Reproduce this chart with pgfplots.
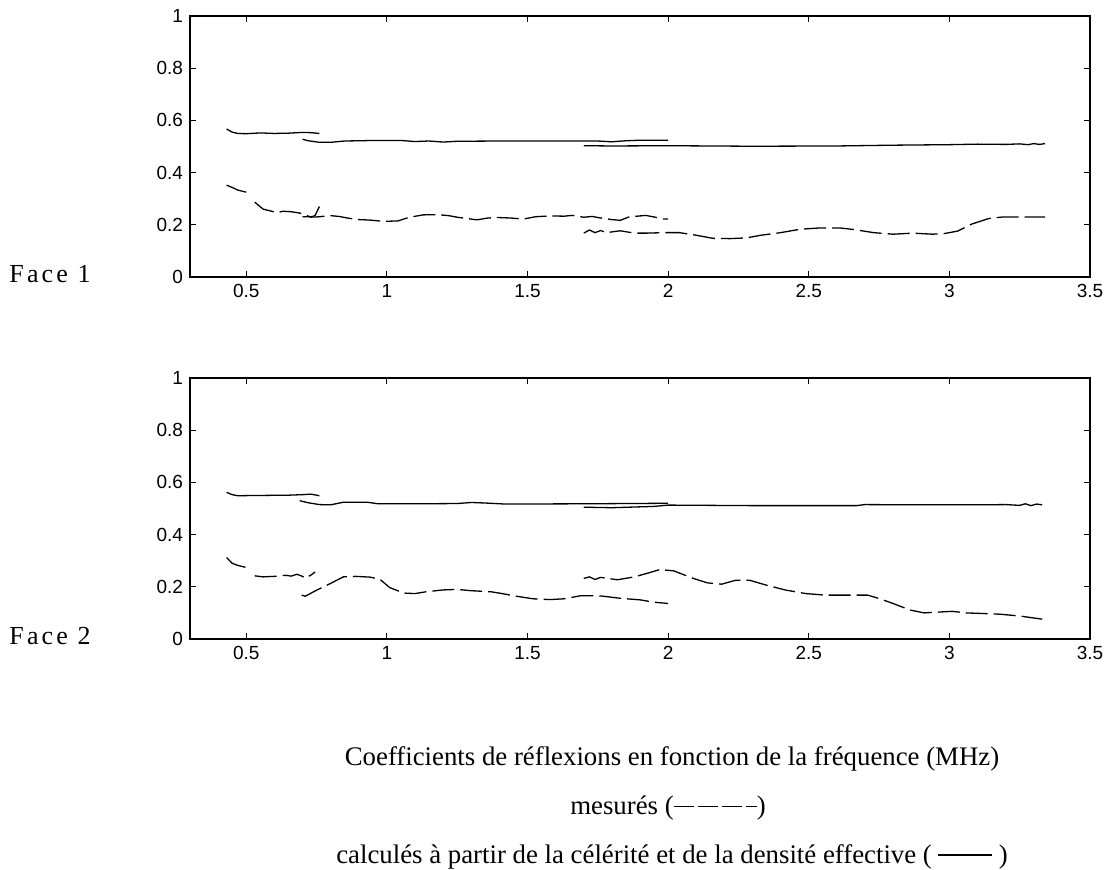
\documentclass[border=0pt]{standalone}
\usepackage{fontspec}
\setmainfont{Liberation Serif}
\newfontfamily\ticksfont{Liberation Sans}
\usepackage{pgfplots}
\pgfplotsset{compat=1.18}
\pgfplotsset{
  myaxis/.style={
    scale only axis, width=450pt, height=130.5pt,
    xmin=0.3, xmax=3.5, ymin=0, ymax=1,
    xtick={0.5,1,1.5,2,2.5,3,3.5},
    ytick={0,0.2,0.4,0.6,0.8,1},
    tick align=inside, major tick length=3pt,
    tick style={black, line width=0.5pt},
    axis line style={line width=0.6pt},
    tick label style={font=\ticksfont\fontsize{9.5}{11}\selectfont},
    /pgf/number format/assume math mode=true,
    unbounded coords=jump,
    clip=false,
  },
  calc/.style={black, line width=0.65pt, no markers},
  meas/.style={black, line width=0.65pt, no markers, dash pattern=on 11pt off 3pt},
}
\begin{document}
\begin{tikzpicture}
\path[use as bounding box] (0pt,0pt) rectangle (552pt,-435pt);

% ---------- Face 1 ----------
\begin{axis}[myaxis, at={(95pt,-138.5pt)}, anchor=south west]
\addplot[calc] coordinates {(0.43,0.567)(0.45,0.555)(0.47,0.550)(0.50,0.549)(0.55,0.552)(0.60,0.550)(0.65,0.551)(0.70,0.554)(0.73,0.553)(0.76,0.550)};
\addplot[calc] coordinates {(0.70,0.528)(0.72,0.522)(0.76,0.516)(0.80,0.516)(0.85,0.521)(0.95,0.523)(1.05,0.523)(1.10,0.519)(1.15,0.521)(1.20,0.517)(1.25,0.520)(1.40,0.521)(1.60,0.521)(1.75,0.521)(1.80,0.518)(1.85,0.522)(1.90,0.524)(2.00,0.524)};
\addplot[calc] coordinates {(1.70,0.503)(1.80,0.502)(2.0,0.503)(2.3,0.501)(2.6,0.502)(2.8,0.505)(3.0,0.507)(3.1,0.509)(3.2,0.508)(3.25,0.510)(3.28,0.507)(3.30,0.511)(3.32,0.508)(3.34,0.511)};
\addplot[meas] coordinates {(0.43,0.352)(0.45,0.343)(0.47,0.333)(0.50,0.325)(0.515,nan)(0.53,0.287)(0.56,0.260)(0.59,0.252)(0.61,0.246)(0.63,0.252)(0.66,0.250)(0.69,0.245)(0.71,0.238)(0.73,0.229)(0.745,0.236)(0.76,0.270)};
\addplot[meas] coordinates {(0.70,0.231)(0.75,0.230)(0.80,0.235)(0.83,0.232)(0.865,0.225)(0.90,0.220)(0.94,0.218)(0.99,0.213)(1.04,0.215)(1.08,0.229)(1.13,0.238)(1.18,0.239)(1.22,0.235)(1.25,0.229)(1.32,0.219)(1.36,0.226)(1.39,0.228)(1.44,0.226)(1.485,0.222)(1.53,0.231)(1.58,0.234)(1.63,0.233)(1.66,0.236)(1.70,0.229)(1.73,0.232)(1.76,0.226)(1.80,0.220)(1.83,0.217)(1.86,0.230)(1.92,0.236)(1.95,0.230)(1.98,0.222)(2.0,0.222)};
\addplot[meas] coordinates {(1.70,0.168)(1.72,0.180)(1.74,0.170)(1.76,0.178)(1.78,0.170)(1.83,0.177)(1.88,0.168)(1.92,0.168)(1.99,0.170)(2.04,0.170)(2.10,0.160)(2.16,0.148)(2.22,0.147)(2.28,0.150)(2.33,0.160)(2.40,0.170)(2.47,0.183)(2.54,0.188)(2.61,0.188)(2.66,0.182)(2.73,0.170)(2.80,0.164)(2.87,0.168)(2.94,0.164)(2.98,0.166)(3.03,0.176)(3.08,0.203)(3.14,0.224)(3.19,0.230)(3.24,0.230)(3.34,0.230)};
\end{axis}

% ---------- Face 2 ----------
\begin{axis}[myaxis, at={(95pt,-319.5pt)}, anchor=south west]
\addplot[calc] coordinates {(0.43,0.562)(0.45,0.553)(0.47,0.549)(0.55,0.550)(0.65,0.551)(0.70,0.553)(0.73,0.555)(0.76,0.549)};
\addplot[calc] coordinates {(0.69,0.530)(0.72,0.522)(0.76,0.515)(0.80,0.514)(0.845,0.524)(0.93,0.524)(0.97,0.518)(1.10,0.518)(1.25,0.519)(1.30,0.523)(1.35,0.521)(1.42,0.517)(1.70,0.518)(2.0,0.520)};
\addplot[calc] coordinates {(1.70,0.505)(1.80,0.503)(1.95,0.508)(2.0,0.513)(2.3,0.511)(2.67,0.511)(2.70,0.515)(2.90,0.514)(3.10,0.514)(3.20,0.515)(3.25,0.512)(3.27,0.518)(3.29,0.511)(3.31,0.517)(3.33,0.514)};
\addplot[meas] coordinates {(0.43,0.312)(0.45,0.290)(0.47,0.282)(0.50,0.274)(0.515,nan)(0.53,0.242)(0.56,0.238)(0.60,0.240)(0.64,0.244)(0.66,0.241)(0.68,0.248)(0.70,0.240)(0.71,0.233)(0.73,0.245)(0.745,0.257)};
\addplot[meas] coordinates {(0.697,0.168)(0.71,0.164)(0.75,0.187)(0.80,0.213)(0.845,0.238)(0.89,0.240)(0.94,0.237)(0.975,0.229)(1.01,0.197)(1.06,0.176)(1.10,0.174)(1.14,0.181)(1.20,0.188)(1.25,0.190)(1.30,0.185)(1.37,0.181)(1.41,0.174)(1.46,0.164)(1.52,0.154)(1.58,0.151)(1.63,0.154)(1.69,0.166)(1.71,0.166)(1.76,0.165)(1.83,0.156)(1.90,0.150)(1.95,0.141)(2.0,0.136)};
\addplot[meas] coordinates {(1.70,0.232)(1.72,0.238)(1.74,0.228)(1.76,0.236)(1.82,0.227)(1.88,0.238)(1.93,0.253)(1.97,0.266)(2.02,0.261)(2.09,0.232)(2.14,0.215)(2.19,0.210)(2.24,0.225)(2.29,0.225)(2.35,0.206)(2.42,0.187)(2.49,0.174)(2.56,0.168)(2.63,0.168)(2.71,0.168)(2.75,0.155)(2.80,0.136)(2.86,0.111)(2.91,0.100)(2.96,0.103)(3.01,0.106)(3.06,0.100)(3.11,0.098)(3.18,0.095)(3.25,0.088)(3.31,0.079)(3.33,0.076)};
\end{axis}

% ---------- labels ----------
\node[font=\fontsize{13}{15}\selectfont\addfontfeature{LetterSpace=12}] at (25pt,-137pt) {Face 1};
\node[font=\fontsize{13}{15}\selectfont\addfontfeature{LetterSpace=12}] at (25pt,-318pt) {Face 2};

\node[font=\fontsize{13.4}{15}\selectfont] at (336pt,-379.5pt) {Coefficients de réflexions en fonction de la fréquence (MHz)};
\node[font=\fontsize{13.4}{15}\selectfont] at (334pt,-404pt) {mesurés (\rule[0.27em]{0.75em}{0.7pt}\kern2pt\rule[0.27em]{0.75em}{0.7pt}\kern2pt\rule[0.27em]{0.75em}{0.7pt}\kern2pt\rule[0.27em]{0.4em}{0.7pt})};
\node[font=\fontsize{13.4}{15}\selectfont] at (336pt,-428.5pt) {calculés à partir de la célérité et de la densité effective ( \rule[0.3em]{2em}{0.7pt} )};
\end{tikzpicture}
\end{document}
